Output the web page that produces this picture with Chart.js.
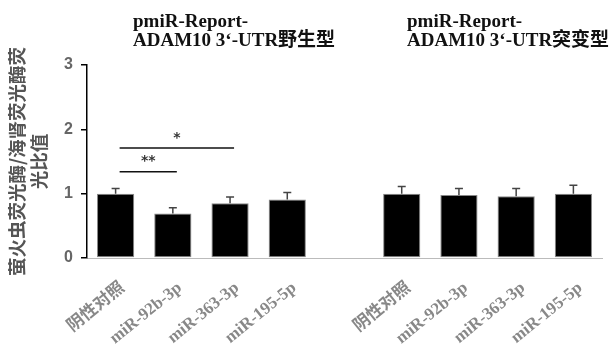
<!DOCTYPE html>
<html>
<head>
<meta charset="utf-8">
<script src="https://cdn.jsdelivr.net/npm/chart.js@4"></script>
<style>
  html, body { margin: 0; padding: 0; background: #fff; }
  #wrap { width: 612px; height: 353px; position: relative; }
</style>
</head>
<body>
<div id="wrap"><canvas id="c" width="612" height="353"></canvas></div>
<script>
// Constructs transfected in each group
const groupLabels = ['阴性对照', 'miR-92b-3p', 'miR-363-3p', 'miR-195-5p'];
// Relative luciferase activity (mean) and SD, wild-type 3'-UTR
const wildMeans = [1.00, 0.69, 0.85, 0.91];
const wildSD    = [0.08, 0.09, 0.10, 0.11];
// Relative luciferase activity (mean) and SD, mutant 3'-UTR
const mutantMeans = [1.00, 0.98, 0.96, 1.00];
const mutantSD    = [0.11, 0.10, 0.12, 0.13];
// Y axis ticks
const yTicks = [0, 1, 2, 3];
// Group headings
const wildTitle = ['pmiR-Report-', 'ADAM10 3‘-UTR野生型'];
const mutantTitle = ['pmiR-Report-', 'ADAM10 3‘-UTR突变型'];
// Significance brackets (category indices, bracket height in data units)
const sigFrom   = [0, 0];
const sigTo     = [1, 2];
const sigHeight = [1.34, 1.71];
const sigText   = ['**', '*'];

// One empty slot separates the two groups
const labels = [...groupLabels, '', ...groupLabels];
const means = [...wildMeans, null, ...mutantMeans];
const sds = [...wildSD, null, ...mutantSD];

const serif = '"Liberation Serif", "Noto Sans CJK SC", serif';
const sans = '"Liberation Sans", "Noto Sans CJK SC", sans-serif';

const errorBars = {
  id: 'errorBars',
  afterDatasetsDraw(chart) {
    const { ctx } = chart;
    const y = chart.scales.y;
    const meta = chart.getDatasetMeta(0);
    ctx.save();
    ctx.strokeStyle = '#444';
    ctx.lineWidth = 1.5;
    meta.data.forEach((bar, i) => {
      if (means[i] == null) return;
      const x = bar.x;
      const y0 = y.getPixelForValue(means[i]);
      const y1 = y.getPixelForValue(means[i] + sds[i]);
      ctx.beginPath();
      ctx.moveTo(x, y0);
      ctx.lineTo(x, y1);
      ctx.moveTo(x - 4, y1);
      ctx.lineTo(x + 4, y1);
      ctx.stroke();
    });
    ctx.restore();
  }
};

const annotations = {
  id: 'annotations',
  afterDraw(chart) {
    const { ctx } = chart;
    const x = chart.scales.x, y = chart.scales.y;
    ctx.save();
    // significance brackets
    for (let k = 0; k < sigFrom.length; k++) {
      const xa = x.getPixelForValue(sigFrom[k]) + 4;
      const xb = x.getPixelForValue(sigTo[k]) + 4;
      const yy = y.getPixelForValue(sigHeight[k]);
      ctx.strokeStyle = '#111';
      ctx.lineWidth = 1.5;
      ctx.beginPath();
      ctx.moveTo(xa, yy);
      ctx.lineTo(xb, yy);
      ctx.stroke();
      ctx.fillStyle = '#333';
      ctx.font = 'bold 14px "DejaVu Sans", sans-serif';
      ctx.textAlign = 'center';
      ctx.textBaseline = 'middle';
      ctx.fillText(sigText[k], (xa + xb) / 2, yy - 10);
    }
    // group headings
    ctx.fillStyle = '#111';
    ctx.font = 'bold 19px ' + serif;
    ctx.textAlign = 'left';
    ctx.textBaseline = 'alphabetic';
    const heads = [[wildTitle, 133], [mutantTitle, 407]];
    heads.forEach(([lines, left]) => {
      ctx.fillText(lines[0], left, 27);
      ctx.fillText(lines[1], left, 46);
    });
    ctx.restore();
  }
};

new Chart(document.getElementById('c'), {
  type: 'bar',
  data: {
    labels: labels,
    datasets: [{
      data: means,
      backgroundColor: '#000',
      borderColor: '#888',
      borderWidth: 1,
      borderSkipped: false,
      categoryPercentage: 1.0,
      barPercentage: 0.65
    }]
  },
  options: {
    responsive: false,
    animation: false,
    events: [],
    layout: { padding: { top: 65, right: 10, left: 0, bottom: 0 } },
    plugins: {
      legend: { display: false },
      tooltip: { enabled: false },
      title: { display: false }
    },
    scales: {
      x: {
        offset: true,
        border: { display: true, color: '#bbb', width: 1 },
        grid: { display: false, drawTicks: false },
        ticks: {
          autoSkip: false,
          minRotation: 39,
          maxRotation: 39,
          padding: 20,
          labelOffset: 7,
          color: '#888',
          font: { family: serif, size: 17, weight: 'bold' }
        },
        afterFit(scale) { scale.height = 95; }
      },
      y: {
        min: 0,
        max: 3,
        afterBuildTicks(scale) { scale.ticks = yTicks.map(v => ({ value: v })); },
        border: { display: true, color: '#000', width: 1.5 },
        grid: { drawOnChartArea: false, drawTicks: true, tickLength: 6, color: '#000', lineWidth: 1.5 },
        ticks: {
          padding: 8,
          color: '#666',
          font: { family: sans, size: 16, weight: 'bold' }
        },
        title: {
          display: true,
          text: ['萤火虫荧光酶/海肾荧光酶荧', '光比值'],
          color: '#555',
          padding: { top: 5, bottom: 0 },
          font: { family: '"Noto Sans CJK SC", sans-serif', size: 18.5, weight: 'bold', lineHeight: 1.24 }
        },
        afterFit(scale) { scale.width = 87; }
      }
    }
  },
  plugins: [errorBars, annotations]
});
</script>
</body>
</html>
